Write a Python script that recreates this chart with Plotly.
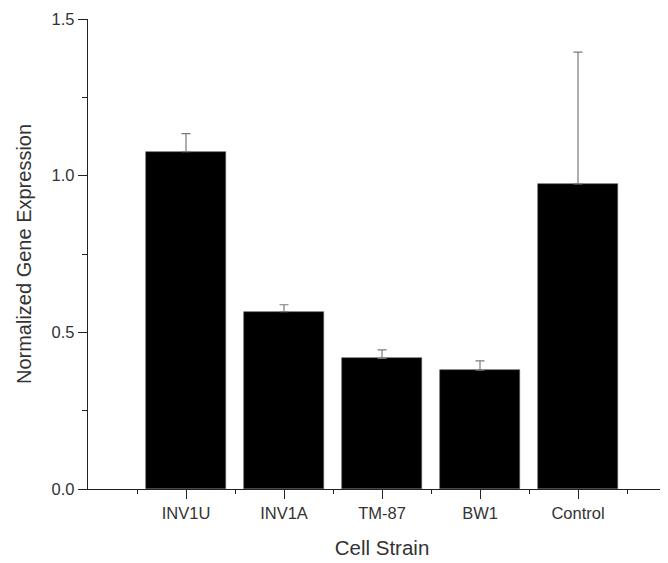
import plotly.graph_objects as go

categories = ["INV1U", "INV1A", "TM-87", "BW1", "Control"]
values = [1.077, 0.566, 0.417, 0.379, 0.974]
errors = [0.057, 0.022, 0.027, 0.030, 0.420]
y_ticks = [0.0, 0.5, 1.0, 1.5]
y_tick_labels = ["0.0", "0.5", "1.0", "1.5"]

positions = list(range(len(categories)))

fig = go.Figure()
fig.add_trace(go.Bar(
    x=positions,
    y=values,
    width=0.81,
    marker=dict(color="black", line=dict(color="#555555", width=0.6)),
    error_y=dict(type="data", array=errors, symmetric=False, arrayminus=[0]*len(errors),
                 color="#7a7a7a", thickness=1.2, width=4.5, visible=True),
    showlegend=False,
))

font_family = "Liberation Sans, Arial, sans-serif"

fig.update_layout(
    width=668, height=563,
    margin=dict(l=80, r=0, t=11, b=82),
    paper_bgcolor="white", plot_bgcolor="white",
    font=dict(family=font_family, color="#222222"),
    bargap=0,
)
fig.update_xaxes(
    range=[-1, 5], automargin=False,
    tickmode="array", tickvals=positions, ticktext=categories,
    ticks="outside", ticklen=9, tickwidth=1.3, tickcolor="#222222",
    showline=True, linecolor="#222222", linewidth=1.3,
    showgrid=False, zeroline=False,
    tickfont=dict(size=16.5, color="#333333"),
    title=dict(text="Cell Strain", font=dict(size=20.5, color="#333333"), standoff=19),
    minor=dict(tickmode="array", tickvals=[-0.5, 0.5, 1.5, 2.5, 3.5, 4.5],
               ticks="outside", ticklen=4, tickwidth=1.3, tickcolor="#222222", showgrid=False),
)
fig.update_yaxes(
    range=[0, 1.5], automargin=False,
    tickmode="array", tickvals=y_ticks, ticktext=y_tick_labels,
    ticks="outside", ticklen=9, tickwidth=1.3, tickcolor="#222222",
    showline=True, linecolor="#222222", linewidth=1.3,
    showgrid=False, zeroline=False,
    tickfont=dict(size=16.5, color="#333333"),
    title=dict(text="Normalized Gene Expression", font=dict(size=20, color="#333333"), standoff=14),
    minor=dict(tickmode="array", tickvals=[0.25, 0.75, 1.25],
               ticks="outside", ticklen=5, tickwidth=1.3, tickcolor="#222222", showgrid=False),
)

fig.write_html("out.html")
